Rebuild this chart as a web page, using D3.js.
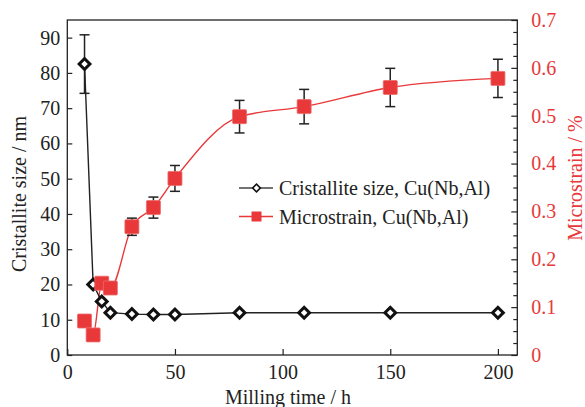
<!DOCTYPE html>
<html>
<head>
<meta charset="utf-8">
<script src="https://cdn.jsdelivr.net/npm/d3@7"></script>
<style>
  html, body { margin: 0; padding: 0; background: #fff; }
  svg { display: block; }
  svg text { font-family: "Liberation Serif", "Times New Roman", serif !important; }
</style>
</head>
<body>
<svg id="chart" width="585" height="407"></svg>
<script>
// ---- data ----
const time = [8, 12, 16, 20, 30, 40, 50, 80, 110, 150, 200];
const crystSize = [82.5, 20, 15.2, 12, 11.6, 11.5, 11.5, 12, 12, 12, 12];
const crystErr = [8.3, 0, 0, 0, 0, 0, 0, 0, 0, 0, 0];
const strain = [0.071, 0.042, 0.15, 0.14, 0.268, 0.308, 0.369, 0.498, 0.519, 0.559, 0.578];
const strainErr = [0, 0, 0, 0, 0.018, 0.022, 0.027, 0.034, 0.036, 0.04, 0.04];
const xTicks = [0, 50, 100, 150, 200];
const yLeftTicks = [0, 10, 20, 30, 40, 50, 60, 70, 80, 90];
const yRightTicks = [0, 0.1, 0.2, 0.3, 0.4, 0.5, 0.6, 0.7];
const legendLabels = ["Cristallite size, Cu(Nb,Al)", "Microstrain, Cu(Nb,Al)"];

const RED = "#e8383a";
const INK = "#222";
const FONT = "'Liberation Serif', 'Times New Roman', serif";

const svg = d3.select("#chart");
const L = 67.3, R = 517.3, T = 20, B = 355;

const x = d3.scaleLinear().domain([0, 209]).range([L, R]);
const yL = d3.scaleLinear().domain([0, 95]).range([B, T]);
const yR = d3.scaleLinear().domain([0, 0.7]).range([B, T]);

const sizeData = time.map((t, i) => ({ t, v: crystSize[i], e: crystErr[i] }));
const strainData = time.map((t, i) => ({ t, v: strain[i], e: strainErr[i] }));

// ---- axes ----
const gx = svg.append("g").attr("transform", `translate(0,${B})`)
  .call(d3.axisBottom(x).tickValues(xTicks).tickSize(-6).tickPadding(10).tickFormat(d3.format("d")));
const gl = svg.append("g").attr("transform", `translate(${L},0)`)
  .call(d3.axisLeft(yL).tickValues(yLeftTicks).tickSize(-5).tickPadding(7).tickFormat(d3.format("d")));
const minorR = d3.range(0, 0.7001, 0.025).filter(v => Math.abs(v * 10 - Math.round(v * 10)) > 1e-6);
svg.append("g").attr("transform", `translate(${R},0)`)
  .call(d3.axisRight(yR).tickValues(minorR).tickSize(-4).tickFormat(""))
  .call(g => g.select(".domain").remove());
const gr = svg.append("g").attr("transform", `translate(${R},0)`)
  .call(d3.axisRight(yR).tickValues(yRightTicks).tickSize(-6).tickPadding(14)
    .tickFormat(d => d === 0 ? "0" : d3.format(".1f")(d)));

[gx, gl, gr].forEach(g => {
  g.attr("font-family", FONT);
  g.selectAll(".domain").remove();
  g.selectAll("text").attr("font-family", FONT).attr("font-size", 20).attr("fill", INK);
});
gr.selectAll("text").attr("fill", RED);
svg.selectAll("g line").attr("stroke", INK).attr("stroke-width", 1.2);

// frame
svg.append("rect").attr("x", L).attr("y", T).attr("width", R - L).attr("height", B - T)
  .attr("fill", "none").attr("stroke", INK).attr("stroke-width", 1.3);

// ---- axis titles ----
svg.append("text").attr("x", 288).attr("y", 404)
  .attr("text-anchor", "middle").attr("font-family", FONT).attr("font-size", 20).attr("fill", INK)
  .text("Milling time / h");
svg.append("text").attr("transform", `translate(26,194) rotate(-90)`)
  .attr("text-anchor", "middle").attr("font-family", FONT).attr("font-size", 20).attr("fill", INK)
  .text("Cristallite size / nm");
svg.append("text").attr("transform", `translate(582,178) rotate(-90)`)
  .attr("text-anchor", "middle").attr("font-family", FONT).attr("font-size", 20).attr("fill", RED)
  .text("Microstrain / %");

// ---- lines ----
const lineStrain = d3.line().x(d => x(d.t)).y(d => yR(d.v)).curve(d3.curveMonotoneX);
const lineSize = d3.line().x(d => x(d.t)).y(d => yL(d.v));
svg.append("path").datum(strainData).attr("d", lineStrain)
  .attr("fill", "none").attr("stroke", RED).attr("stroke-width", 1.4);
svg.append("path").datum(sizeData).attr("d", lineSize)
  .attr("fill", "none").attr("stroke", INK).attr("stroke-width", 1.4);

// ---- error bars ----
function errorBars(data, yScale) {
  const g = svg.append("g").attr("stroke", INK).attr("stroke-width", 1.5).attr("fill", "none");
  data.filter(d => d.e > 0).forEach(d => {
    const cx = x(d.t), y1 = yScale(d.v - d.e), y2 = yScale(d.v + d.e);
    g.append("line").attr("x1", cx).attr("x2", cx).attr("y1", y1).attr("y2", y2);
    g.append("line").attr("x1", cx - 5).attr("x2", cx + 5).attr("y1", y1).attr("y2", y1);
    g.append("line").attr("x1", cx - 5).attr("x2", cx + 5).attr("y1", y2).attr("y2", y2);
  });
}
errorBars(strainData, yR);
errorBars(sizeData, yL);

// ---- markers ----
svg.append("g").selectAll("path").data(sizeData).join("path")
  .attr("d", d3.symbol().type(d3.symbolSquare).size(58))
  .attr("transform", d => `translate(${x(d.t)},${yL(d.v)}) rotate(45)`)
  .attr("fill", "#fff").attr("stroke", "#111").attr("stroke-width", 3);
svg.append("g").selectAll("rect").data(strainData).join("rect")
  .attr("x", d => x(d.t) - 7).attr("y", d => yR(d.v) - 7)
  .attr("width", 14).attr("height", 14).attr("rx", 1)
  .attr("fill", RED).attr("stroke", "#ee6a6a").attr("stroke-width", 0.8);

// ---- legend ----
const lg = svg.append("g");
const ly = [188, 216.5];
lg.append("line").attr("x1", 239).attr("x2", 273).attr("y1", ly[0]).attr("y2", ly[0])
  .attr("stroke", "#444").attr("stroke-width", 1.5);
lg.append("path").attr("d", d3.symbol().type(d3.symbolSquare).size(30))
  .attr("transform", `translate(256.5,${ly[0]}) rotate(45)`)
  .attr("fill", "#fff").attr("stroke", "#111").attr("stroke-width", 1.6);
lg.append("line").attr("x1", 239).attr("x2", 273).attr("y1", ly[1]).attr("y2", ly[1])
  .attr("stroke", RED).attr("stroke-width", 1.5);
lg.append("rect").attr("x", 251.5).attr("y", ly[1] - 5).attr("width", 10).attr("height", 10)
  .attr("fill", RED);
legendLabels.forEach((t, i) => {
  lg.append("text").attr("x", 279).attr("y", ly[i] + 7)
    .attr("font-family", FONT).attr("font-size", 20).attr("fill", INK).text(t);
});
</script>
</body>
</html>
